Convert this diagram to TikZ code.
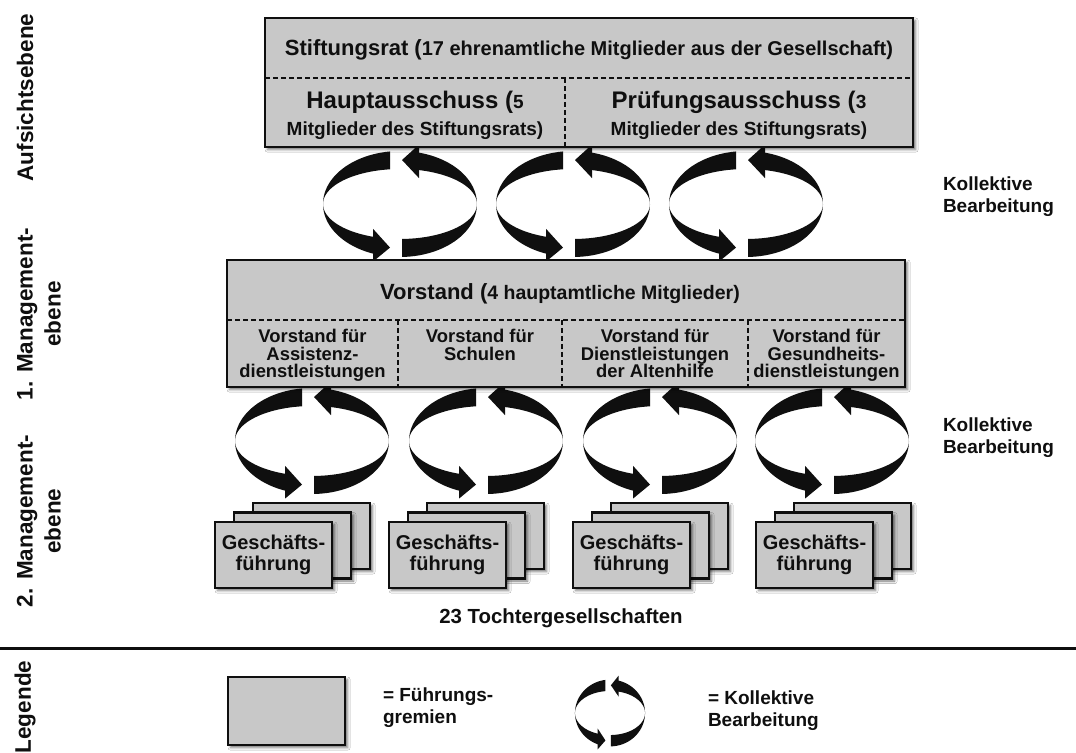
\documentclass[tikz,border=0pt]{standalone}
\usepackage{fontspec}
\setmainfont{Liberation Sans}
\usetikzlibrary{shadows.blur}

\definecolor{boxgray}{RGB}{200,200,200}
\definecolor{ink}{RGB}{15,15,15}

\newcommand{\fGross}{\fontsize{11}{14}\selectfont}
\newcommand{\fTitel}{\fontsize{12}{14}\selectfont}
\newcommand{\fNorm}{\fontsize{9.5}{11}\selectfont}
\newcommand{\fVorst}{\fontsize{9.75}{11}\selectfont}
\newcommand{\fWeit}{\fontsize{10}{11}\selectfont}
\newcommand{\fSub}{\fontsize{9.2}{8.6}\selectfont\lineskiplimit=-20pt\relax}

% circular "collective work" symbol: two ribbon arcs with arrow heads
\newcommand{\zyklus}[4]{%
  \begin{scope}[shift={(#1,#2)},xscale=#3,yscale=#4]
    \fill[ink] plot[domain=97.46:251,samples=50,variable=\t] ({77*cos(\t)},{-53*sin(\t)})
      -- plot[domain=251:97.46,samples=50,variable=\t] ({77*cos(\t)},{-35*sin(\t)}) -- cycle;
    \fill[ink] (-27,57.6) -- (-27,24.8) -- (-10,43.6) -- cycle;
    \fill[ink] plot[domain=-88.51:77,samples=50,variable=\t] ({77*cos(\t)},{-53*sin(\t)})
      -- plot[domain=77:-88.51,samples=50,variable=\t] ({77*cos(\t)},{-35*sin(\t)}) -- cycle;
    \fill[ink] (19,-59.4) -- (19,-25.9) -- (2,-44) -- cycle;
  \end{scope}}

\begin{document}
\begin{tikzpicture}[x=0.5pt,y=-0.5pt,
  every node/.style={text=ink,inner sep=0pt,outer sep=0pt,font=\fNorm\bfseries},
  gremium/.style={draw=ink,line width=1.25pt,fill=boxgray,
    blur shadow={shadow xshift=1.3pt,shadow yshift=-1.3pt,shadow blur radius=1.3pt,shadow opacity=55}},
  trenner/.style={draw=ink,line width=0.9pt,dash pattern=on 2.6pt off 1.4pt},
  gfbox/.style={gremium,minimum width=58.5pt,minimum height=33pt,anchor=north west},
  gftext/.style={gfbox,align=center,font=\fontsize{10}{10.8}\selectfont\bfseries},
  kopf/.style={align=center,font=\fontsize{9.5}{13.5}\selectfont\bfseries},
  sub/.style={align=center,anchor=north,font=\fSub\bfseries},
  rechts/.style={anchor=west,align=left,font=\fontsize{9.5}{11}\selectfont\bfseries},
  ebene/.style={rotate=90,align=center,font=\fontsize{11.25}{14}\selectfont\bfseries}]

\fill[white] (0,0) rectangle (1076,753);
\useasboundingbox (0,0) rectangle (1076,753);

% level labels
\node[ebene] (e0) at (25,97.5) {Aufsichtsebene};
\node[ebene] (e1) at (39,314) {1. Management-\\ebene};
\node[ebene] (e2) at (39,521) {2. Management-\\ebene};
\node[ebene] (e3) at (25,707) {Legende};

% collective work between the boards
\zyklus{400}{204}{1}{1}
\zyklus{573}{204}{1}{1}
\zyklus{746}{204}{1}{1}
\zyklus{312}{441}{1}{1}
\zyklus{486}{441}{1}{1}
\zyklus{660}{441}{1}{1}
\zyklus{832}{441}{1}{1}

% supervisory board
\node[gremium,minimum width=324pt,minimum height=64.5pt,anchor=north west] (rat) at (265,18) {};
\draw[trenner] (265,78) -- (913,78);
\draw[trenner] (565,78) -- (565,147);
\node (ratT) at (589,50) {{\fGross Stiftungsrat (}{\fWeit 17 ehrenamtliche Mitglieder aus der Gesellschaft)}};
\node[kopf] (haupt) at (415,115.5) {{\fTitel Hauptausschuss (}{\fNorm 5}\\{\fNorm Mitglieder des Stiftungsrats)}};
\node[kopf] (pruef) at (739,115.5) {{\fTitel Prüfungsausschuss (}{\fNorm 3}\\{\fNorm Mitglieder des Stiftungsrats)}};

% executive board
\node[gremium,minimum width=339pt,minimum height=63.5pt,anchor=north west] (vorstand) at (227,260) {};
\draw[trenner] (227,320) -- (905,320);
\draw[trenner] (398,320) -- (398,387);
\draw[trenner] (562,320) -- (562,387);
\draw[trenner] (748,320) -- (748,387);
\node (vorstandT) at (560,294) {{\fGross Vorstand (}{\fVorst 4 hauptamtliche Mitglieder)}};
\node[sub] (v1) at (312.5,329.5) {Vorstand für\\Assistenz-\\dienstleistungen};
\node[sub] (v2) at (480,329.5) {Vorstand für\\Schulen};
\node[sub] (v3) at (655,329.5) {Vorstand für\\Dienstleistungen\\der Altenhilfe};
\node[sub] (v4) at (826.5,329.5) {Vorstand für\\Gesundheits-\\dienstleistungen};

\node[rechts] (kb1) at (943,197) {Kollektive\\Bearbeitung};
\node[rechts] (kb2) at (943,438) {Kollektive\\Bearbeitung};

% subsidiaries
\foreach \n/\x in {1/215,2/389,3/573,4/756}{
  \node[gfbox] (gf\n c) at (\x+38,503) {};
  \node[gfbox] (gf\n b) at (\x+19,512.5) {};
  \node[gftext] (gf\n) at (\x,522) {Geschäfts-\\führung};
}
\node[font=\fontsize{10.2}{12}\selectfont\bfseries] (toechter) at (561,618) {23 Tochtergesellschaften};

% legend
\draw[ink,line width=1.5pt] (0,648) -- (1076,648);
\node[gfbox,minimum height=34pt] (legbox) at (228,677) {};
\node[rechts] (legboxT) at (383,708) {= Führungs-\\gremien};
\zyklus{610}{713}{0.455}{0.63}
\node[rechts] (legzykT) at (708,711) {= Kollektive\\Bearbeitung};
\end{tikzpicture}
\end{document}
